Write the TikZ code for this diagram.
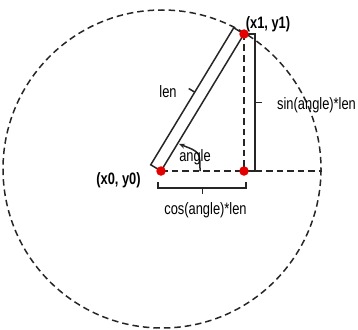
\documentclass[tikz,border=0pt]{standalone}
\usepackage{fontspec}
\setmainfont[FakeStretch=0.78]{Liberation Sans}
\usetikzlibrary{calc,arrows.meta}
\begin{document}
\begin{tikzpicture}[x=1pt,y=-1pt,
  line/.style={line width=1.5pt,black!85},
  dashline/.style={line width=1.5pt,black!85,dash pattern=on 6.5pt off 4pt},
  dot/.style={circle,fill=red!90!black,inner sep=0pt,minimum size=9.5pt},
  lbl/.style={inner sep=0pt,font=\fontsize{16.5}{19}\selectfont,text=black},
  blbl/.style={inner sep=0pt,font=\fontsize{16.5}{19}\selectfont\bfseries,text=black}]
\useasboundingbox (0,0) rectangle (358,329);
% geometry
\coordinate (c) at (162,169);
\coordinate (p0) at (161,171);
\coordinate (p1) at (244,34);
\coordinate (pc) at (244,171);
\coordinate (rb) at (322,171);
% circle
\draw[dashline] (c) circle[radius=159];
% dashed helpers
\draw[dashline] (p0) -- (rb);
\draw[dashline] (p1) -- (pc);
% rod
\coordinate (q0) at ($(p0)!12pt!90:(p1)$);
\coordinate (q1) at ($(p1)!12pt!-90:(p0)$);
\draw[line,line join=miter] (p0) -- (p1) -- (q1) -- (q0) -- cycle;
% len tick
\coordinate (lt) at ($(q0)!0.53!(q1)$);
\coordinate (lt2) at ($(lt)!7pt!90:(q1)$);
\draw[line] (lt) -- (lt2);
% right bracket
\coordinate (rt) at (255,34);
\coordinate (rbm) at (255,171);
\draw[line] (p1) -- (rt) -- (rbm) -- (pc);
\coordinate (rm) at (255,102.5);
\coordinate (rm2) at (262,102.5);
\draw[line] (rm) -- (rm2);
% bottom bracket
\coordinate (b1) at (158,182);
\coordinate (b2) at (158,188);
\coordinate (b3) at (246,188);
\coordinate (b4) at (246,182);
\draw[line] (b1) -- (b2) -- (b3) -- (b4);
\coordinate (bm) at (202.5,188);
\coordinate (bm2) at (202.5,194);
\draw[line] (bm) -- (bm2);
% angle arrow
\coordinate (a0) at (200,171);
\coordinate (a1) at (179,144);
\draw[line,-{Stealth[length=6pt,width=5pt]}] (a0) .. controls (200,152) .. (a1);
% dots
\node[dot] (d0) at (p0) {};
\node[dot] (d1) at (p1) {};
\node[dot] (dc) at (pc) {};
% labels
\node[blbl] (lx1) at (268,24) {(x1, y1)};
\node[blbl] (lx0) at (118.5,180) {(x0, y0)};
\node[lbl] (llen) at (168,92) {len};
\node[lbl] (lang) at (195,157) {angle};
\node[lbl,anchor=west] (lsin) at (277,105) {sin(angle)*len};
\node[lbl] (lcos) at (205.5,210) {cos(angle)*len};
\end{tikzpicture}
\end{document}
